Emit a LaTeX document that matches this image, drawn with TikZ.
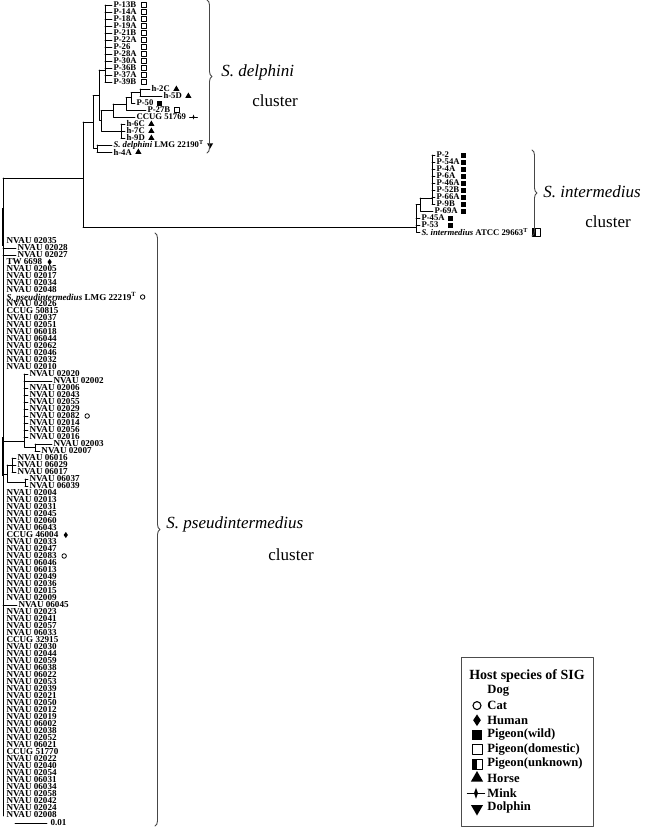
\documentclass[tikz,border=0pt]{standalone}
\usepackage{fontspec}
\setmainfont{Liberation Serif}
\usetikzlibrary{shapes.geometric,decorations.pathreplacing}
\tikzset{
  leaf/.style={anchor=west,inner sep=0pt,outer sep=1.5pt,font=\fontsize{8.7}{8.7}\selectfont\bfseries},
  bigleaf/.style={leaf,font=\fontsize{9.1}{9.1}\selectfont\bfseries},
  clade/.style={anchor=west,inner sep=0pt,font=\fontsize{17}{17}\selectfont},
  key/.style={anchor=west,inner sep=0pt,font=\fontsize{12.6}{12.6}\selectfont\bfseries},
  catm/.style={circle,draw,line width=.8pt,minimum size=4.5pt,inner sep=0pt},
  humm/.style={diamond,fill,minimum width=4.5pt,minimum height=6.5pt,inner sep=0pt},
  wildm/.style={rectangle,fill,minimum size=5pt,inner sep=0pt},
  domm/.style={rectangle,draw,line width=.7pt,minimum size=5pt,inner sep=0pt},
  horsem/.style={regular polygon,regular polygon sides=3,fill,minimum size=7pt,inner sep=0pt},
  dolphm/.style={regular polygon,regular polygon sides=3,shape border rotate=180,fill,minimum size=7pt,inner sep=0pt},
  clbrace/.style={decorate,decoration={brace,amplitude=5pt},draw=gray!55!black,line width=.9pt},
  minkm/.pic={\draw[line width=.7pt] (-4,0)--(4,0); \fill (0,-2.5)--(.9,0)--(0,2.5)--(-.9,0)--cycle;},
  unkm/.pic={\fill (-4,-4) rectangle (0,4); \draw[line width=1pt] (-4,-4) rectangle (4,4);}
}
\begin{document}
\begin{tikzpicture}[x=1pt,y=-1pt,line width=.8pt,line cap=round,line join=round]
	\useasboundingbox (0,0) rectangle (645,828);
	\def\ps{234} \def\dy{7}
	% S. delphini
	\foreach \t [count=\i] in {P-13B,P-14A,P-18A,P-19A,P-21B,P-22A,P-26,P-28A,P-30A,P-36B,P-37A,P-39B}{
		\node[leaf] (d\i) at (112,-2+\dy*\i) {\t};
		\node[domm] at (143.5,-2+\dy*\i) {};
		\draw (105,-2+\dy*\i)--(d\i.west);
	}
	\node[leaf] (h2c) at (150,89) {h-2C};
	\node[leaf] (h5d) at (162,96) {h-5D};
	\node[leaf] (p50) at (135,103) {P-50};
	\node[leaf] (p27b) at (146,110) {P-27B};
	\node[leaf] (ccug1) at (135,117) {CCUG 51769};
	\node[leaf] (h6c) at (125,124) {h-6C};
	\node[leaf] (h7c) at (125,131) {h-7C};
	\node[leaf] (h9d) at (125,138) {h-9D};
	\node[leaf] (sdel) at (112,145) {\textit{S. delphini} LMG 22190\textsuperscript{T}};
	\node[leaf] (h4a) at (112,152) {h-4A};
	\node[horsem] at ([xshift=5pt]h2c.east) {};
	\node[horsem] at ([xshift=5pt]h5d.east) {};
	\node[wildm] at ([xshift=5pt]p50.east) {};
	\node[domm] at ([xshift=5pt]p27b.east) {};
	\pic at ([xshift=6pt]ccug1.east) {minkm};
	\node[horsem] at ([xshift=5pt]h6c.east) {};
	\node[horsem] at ([xshift=5pt]h7c.east) {};
	\node[horsem] at ([xshift=5pt]h9d.east) {};
	\node[dolphm] at ([xshift=5pt]sdel.east) {};
	\node[horsem] at ([xshift=5pt]h4a.east) {};
	\draw (105,5)--(105,82) (99,70)--(105,70);
	\draw (140,89)--(140,96) (140,89)--(h2c.west) (140,96)--(h5d.west);
	\draw (131,92.5)--(140,92.5) (131,92.5)--(131,103)--(p50.west);
	\draw (126,97.75)--(131,97.75) (126,97.75)--(126,110)--(p27b.west);
	\draw (113,104)--(126,104) (113,104)--(113,117)--(ccug1.west);
	\draw (121,124)--(121,138) (121,124)--(h6c.west) (121,131)--(h7c.west) (121,138)--(h9d.west);
	\draw (101,110.5)--(113,110.5) (101,110.5)--(101,131)--(121,131);
	\draw (99,70)--(99,120.75)--(101,120.75);
	\draw (97,145)--(97,152) (97,145)--(sdel.west) (97,152)--(h4a.west);
	\draw (93,95.4)--(99,95.4) (93,95.4)--(93,148.5)--(97,148.5);
	\draw (83,122)--(93,122) (83,122)--(83,227) (3,178)--(83,178);
	% S. intermedius
	\foreach \t [count=\i] in {P-2,P-54A,P-4A,P-6A,P-46A,P-52B,P-66A,P-9B}{
		\node[leaf] (i\i) at (435,148+\dy*\i) {\t};
		\node[wildm] at (463.5,148+\dy*\i) {};
		\draw (432,148+\dy*\i)--(i\i.west);
	}
	\node[leaf] (p69a) at (433,211) {P-69A};
	\node[leaf] (p45a) at (420,218) {P-45A};
	\node[leaf] (p53) at (420,225) {P-53};
	\node[leaf] (sint) at (420,232) {\textit{S. intermedius} ATCC 29663\textsuperscript{T}};
	\node[wildm] at (463.5,211) {};
	\node[wildm] at (450,218) {};
	\node[wildm] at (450,225) {};
	\pic at ([xshift=7pt]sint.east) {unkm};
	\draw (432,155)--(432,204) (420,198)--(432,198);
	\draw (420,198)--(420,211)--(p69a.west) (416,204.5)--(420,204.5);
	\draw (416,204.5)--(416,232)--(sint.west) (416,218)--(p45a.west) (416,225)--(p53.west);
	\draw (83,227)--(416,227);
	% S. pseudintermedius
	\foreach \x/\t [count=\i] in {5/NVAU 02035,16/NVAU 02028,16/NVAU 02027,5/TW 6698,
		5/NVAU 02005,5/NVAU 02017,5/NVAU 02034,5/NVAU 02048,
		5/{\textit{S. pseudintermedius} LMG 22219\textsuperscript{T}},
		5/NVAU 02026,5/CCUG 50815,5/NVAU 02037,5/NVAU 02051,5/NVAU 06018,
		5/NVAU 06044,5/NVAU 02062,5/NVAU 02046,5/NVAU 02032,5/NVAU 02010,
		28/NVAU 02020,52/NVAU 02002,28/NVAU 02006,28/NVAU 02043,28/NVAU 02055,
		28/NVAU 02029,28/NVAU 02082,28/NVAU 02014,28/NVAU 02056,28/NVAU 02016,
		52/NVAU 02003,40/NVAU 02007,16/NVAU 06016,16/NVAU 06029,16/NVAU 06017,
		28/NVAU 06037,28/NVAU 06039,
		5/NVAU 02004,5/NVAU 02013,5/NVAU 02031,5/NVAU 02045,
		5/NVAU 02060,5/NVAU 06043,5/CCUG 46004,5/NVAU 02033,
		5/NVAU 02047,5/NVAU 02083,5/NVAU 06046,5/NVAU 06013,
		5/NVAU 02049,5/NVAU 02036,5/NVAU 02015,5/NVAU 02009,
		17/NVAU 06045,
		5/NVAU 02023,5/NVAU 02041,5/NVAU 02057,5/NVAU 06033,
		5/CCUG 32915,5/NVAU 02030,5/NVAU 02044,5/NVAU 02059,
		5/NVAU 06038,5/NVAU 06022,5/NVAU 02053,5/NVAU 02039,
		5/NVAU 02021,5/NVAU 02050,5/NVAU 02012,5/NVAU 02019,5/NVAU 06002,
		5/NVAU 02038,5/NVAU 02052,5/NVAU 06021,5/CCUG 51770,
		5/NVAU 02022,5/NVAU 02040,5/NVAU 02054,5/NVAU 06031,
		5/NVAU 06034,5/NVAU 02058,5/NVAU 02042,5/NVAU 02024,5/NVAU 02008}
		\node[bigleaf] (s\i) at (\x,\ps+\dy*\i) {\t};
	\node[humm] at ([xshift=6pt]s4.east) {};
	\node[catm] at ([xshift=5pt]s9.east) {};
	\node[catm] at ([xshift=6pt]s26.east) {};
	\node[humm] at ([xshift=6pt]s43.east) {};
	\node[catm] at ([xshift=6pt]s46.east) {};
	\draw (3,178)--(3,816);
	\draw[line width=2.6pt,line cap=butt] (3,208)--(3,246);
	\draw[line width=2.2pt,line cap=butt] (3,437)--(3,476);
	\draw (3,248)--(s2.west) (3,255)--(s3.west) (3,605)--(s53.west);
	\draw (3,441)--(24,441) (24,374)--(24,447.5)--(35,447.5);
	\foreach \i in {20,22,23,...,29} \draw (24,\ps+\dy*\i)--(s\i.west);
	\draw (24,381)--(s21.west);
	\draw (35,444)--(35,451) (35,444)--(s30.west) (35,451)--(s31.west);
	\draw (12,458)--(12,472) (12,458)--(s32.west) (12,465)--(s33.west) (12,472)--(s34.west);
	\draw (25,479)--(25,486) (25,479)--(s35.west) (25,486)--(s36.west);
	\draw (7,465)--(12,465) (7,465)--(7,482.5)--(25,482.5) (3,474)--(7,474);
	\draw (15,823)--(47,823) node[bigleaf,right=2pt] (bar) {0.01};
	% clusters
	\draw[clbrace] (207,0)--(207,153);
	\node[clade] (cdel) at (221,72) {\textit{S. delphini}};
	\node[clade] (cdel2) at (252,101) {cluster};
	\draw[clbrace] (532,150)--(532,236);
	\node[clade] (cint) at (543,192) {\textit{S. intermedius}};
	\node[clade] (cint2) at (585,222) {cluster};
	\draw[clbrace] (155,233)--(155,826);
	\node[clade] (cpse) at (166,524) {\textit{S. pseudintermedius}};
	\node[clade] (cpse2) at (268,555) {cluster};
	% legend
	\draw[gray!60!black,line width=.9pt] (461,657) rectangle (593,826);
	\node[inner sep=0pt,font=\fontsize{14}{14}\selectfont\bfseries] (ktitle) at (527,676) {Host species of SIG};
	\foreach \t [count=\i] in {Dog,Cat,Human,Pigeon(wild),Pigeon(domestic),Pigeon(unknown),Horse,Mink,Dolphin}
		\node[key] (k\i) at (487,676.4+14.6*\i) {\t};
	\node[catm,minimum size=8pt,line width=1.1pt] at (477,705.6) {};
	\node[humm,minimum width=8pt,minimum height=12pt] at (477,720.2) {};
	\node[wildm,minimum size=10pt] at (477,734.8) {};
	\node[domm,minimum size=10pt,line width=1pt] at (477,749.4) {};
	\pic[scale=1.25] at (477,764) {unkm};
	\node[horsem,minimum size=14pt] at (477,778) {};
	\pic[scale=2.2] at (476,793.2) {minkm};
	\node[dolphm,minimum size=14pt] at (477,808.5) {};
\end{tikzpicture}
\end{document}
